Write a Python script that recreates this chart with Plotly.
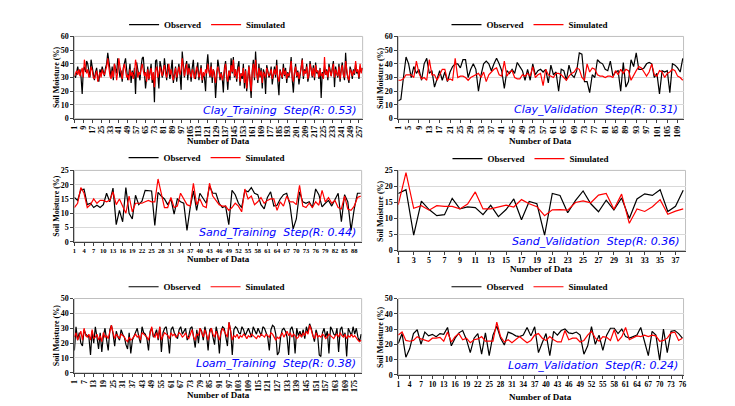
import plotly.graph_objects as go

# ---------------- data ----------------
clay_train_obs = [
 31,30,34,38,33,36,30,18,35,38,34,42,40,36,30,43,37,31,28,34,
 37,30,27,36,33,38,35,31,37,40,48,42,35,30,38,28,40,36,33,44,
 38,30,35,27,37,42,44,36,28,33,40,26,35,30,37,18,41,36,32,28,
 38,44,45,33,22,30,38,28,35,40,26,33,12,42,43,30,22,42,38,30,
 33,44,36,28,40,34,29,36,43,26,31,38,27,33,40,32,21,49,36,30,
 38,42,28,40,35,27,37,43,30,29,36,41,28,34,39,26,33,30,20,38,
 47,35,30,41,26,36,33,15,32,43,38,28,34,30,19,37,42,29,21,35,
 28,44,33,45,30,36,27,38,42,24,33,29,40,22,36,20,31,39,26,15,
 35,43,28,49,34,26,40,30,37,22,36,33,18,39,35,30,32,38,25,34,
 38,30,43,27,17,36,33,29,40,31,37,26,34,30,36,45,28,19,33,40,
 30,35,25,31,38,44,29,36,33,40,27,31,42,37,30,39,28,41,33,35,
 29,37,15,34,30,38,32,36,28,40,35,31,37,42,23,38,33,30,40,27,
 36,41,32,28,48,34,30,26,38,35,29,36,32,40,33,35,29,38,34,37]
clay_train_sim = [
 31,33,35,32,36,31,34,37,30,43,38,33,36,30,32,38,35,30,29,33,
 35,27,31,34,30,36,33,32,35,38,44,36,31,29,35,30,40,36,28,34,
 44,38,33,29,36,40,35,30,32,28,36,31,34,29,33,43,38,30,34,32,
 36,40,35,31,34,27,36,29,33,37,28,34,23,35,38,30,33,38,34,31,
 36,39,33,30,35,40,32,36,31,28,33,37,30,34,38,32,36,44,35,31,
 36,40,32,37,33,30,36,34,29,33,38,35,30,33,37,28,34,31,36,33,
 40,35,31,38,30,36,32,26,34,38,35,30,33,28,31,36,40,30,27,35,
 31,39,34,43,31,36,29,35,38,27,33,31,37,26,35,22,33,38,30,20,
 34,40,30,43,33,28,37,31,35,26,34,32,30,37,34,31,33,36,29,33,
 36,32,39,30,27,35,33,30,37,32,35,29,33,31,35,42,30,27,34,38,
 31,34,29,32,37,43,31,35,33,38,29,32,40,36,31,37,30,39,34,35,
 30,36,31,33,29,45,32,35,30,38,34,31,36,40,30,36,33,31,38,29,
 35,39,32,30,42,33,30,28,36,34,31,35,33,42,34,36,30,40,33,37]

clay_val_obs = [
 13,14,30,45,40,30,38,33,36,28,40,44,33,35,23,30,35,28,34,27,
 34,38,40,40,37,43,43,30,36,40,36,20,32,40,42,40,35,40,44,40,
 35,22,35,33,36,33,41,38,35,28,36,28,40,32,35,36,34,36,26,39,
 32,34,20,36,35,28,39,32,30,35,48,47,27,27,19,32,30,43,41,40,
 36,35,42,31,34,35,20,41,23,27,43,38,48,36,36,37,40,41,40,30,
 33,18,35,34,35,19,40,39,37,34,44]
clay_val_sim = [
 28,28,29,32,32,32,30,42,33,29,30,28,43,32,32,28,32,36,36,28,
 29,28,44,30,31,31,30,28,30,31,32,33,30,34,27,32,34,36,37,32,
 31,42,31,34,35,30,29,29,32,31,33,31,38,30,32,33,24,36,32,31,
 30,33,33,32,30,28,31,33,34,37,36,30,28,40,34,37,36,32,31,31,
 30,31,31,30,35,32,36,33,36,35,28,32,35,38,37,34,31,34,40,32,
 31,35,34,30,33,34,36,35,31,30,28]

sand_train_obs = [
 15.5,14.5,18.2,18.4,13,13.5,12,12.8,12,13,17,14,18.8,6,11,7,19,10,8,16.3,
 13,14.2,18,18,17.8,5.7,17.3,16,15,13,15,9.7,15,14,13.5,4,12,17.8,11,17,
 15,13.5,19.5,17,17,13.5,12,12.5,6,18,16.5,13.5,12,18,17.5,19,17,16.5,13,11.5,
 15.5,17.5,12.5,12.8,15,16.5,17,13,4.5,8,17.5,14,13.5,14,12,18.5,16.5,12.2,13.5,14.5,
 12.5,15,17,7,16.5,14,4,11.5,17,17]
sand_train_sim = [
 12,13.5,19,17,12,13,15,13.5,14.5,14.5,14,14.5,17.5,13,15,12.5,10,16,10.5,13.5,
 13.5,13.5,14,14.5,14,14,22,16.5,12,12,15.5,12,12.5,17,15,13,12.5,20.5,13,15,
 12.5,12,20.5,16,14.5,13,12.5,12.5,11,12,13.5,12.5,10.5,18.5,15,16,13,14,15.5,13.5,
 14.5,15,15,11,14,12.5,16,14,14,13,19.8,12.5,12,13.5,12,14,12.8,18,14,15.5,
 13.5,14.5,12,11.5,16,11.5,11,12.5,15.5,16]

sand_val_obs = [
 17.8,19.0,4.8,15.4,12.8,10.9,11.2,16.3,13.0,13.6,13.4,11.2,14.1,10.6,12.8,16.1,9.6,15.3,14.6,4.8,
 17.8,17.2,11.8,15.6,18.6,14.6,12.1,15.7,12.7,16.4,10.0,16.1,17.7,17.2,19.0,12.2,13.8,18.8]
sand_val_sim = [
 14.3,24.3,13.2,14.0,12.6,14.0,13.8,13.8,13.0,14.5,18.3,13.0,13.0,13.5,14.2,13.6,15.9,14.6,13.7,10.9,
 12.7,12.8,12.6,15.0,15.5,14.9,17.3,17.8,12.9,17.6,8.5,13.0,12.2,13.7,15.9,11.3,12.3,13.0]

loam_train_obs = [
 15,31,22,27,20,18,29,26,25,24,12,28,20,31,24,16,27,14,25,30,
 22,15,29,32,26,18,28,24,22,29,26,24,19,16,27,13,22,25,28,30,
 24,20,31,27,26,23,15,28,30,24,26,29,22,31,14,27,30,31,24,13,
 29,31,27,25,23,29,31,26,28,30,22,25,30,31,24,17,29,20,30,28,
 22,31,26,15,29,30,24,19,31,26,13,28,31,30,24,18,34,28,12,29,
 31,30,27,26,31,29,25,28,30,27,24,31,29,26,30,28,25,31,30,27,
 24,15,29,32,31,26,12,14,24,29,30,28,24,12,29,31,27,13,30,25,
 28,24,29,23,31,27,33,30,26,21,29,25,12,11,27,30,24,28,13,31,
 29,26,25,30,14,29,31,24,27,11,30,28,25,31,26,30,24,21,26]
loam_train_sim = [
 24,27,22,25,28,22,30,25,24,26,22,29,23,24,26,22,25,21,27,24,
 25,23,28,32,27,23,26,24,23,26,25,24,22,21,24,22,23,25,26,24,
 25,22,27,26,25,24,22,26,31,25,24,27,23,31,22,25,27,26,25,23,
 27,25,26,24,25,27,26,24,25,27,24,23,26,29,24,22,26,25,30,27,
 24,29,25,22,27,30,26,24,28,25,22,27,30,28,26,24,34,27,22,25,
 24,26,23,25,24,26,25,23,25,24,26,25,24,23,25,24,26,25,24,26,
 25,24,27,26,24,22,24,23,25,27,24,26,28,25,27,24,26,25,23,24,
 26,24,27,25,28,26,32,29,25,23,27,24,25,24,26,25,23,24,26,25,
 24,23,25,26,24,27,25,24,26,23,25,24,26,24,25,23,22,21,22]

loam_val_obs = [
 20.5,27,11.5,17,27,29.5,20,28,25.5,26.5,25,27,26.5,31,19,24,27.5,29,23,14.5,
 24,27,13.5,27.5,12.5,26,32,24,19.5,28,27,25.5,25,26,31,25.5,31.5,14.5,21,27,
 12.5,28.5,26,29,30,27.5,27,28,26,13.5,19,31.5,20,26,16,26,30.5,30.5,27,30,
 25,24,25,26,31,21,12.5,28.5,26,9.5,30,14.5,28.5,29,27,24]
loam_val_sim = [
 26,28,22.5,22,22.5,25,23.5,23,22,24,24,24.5,22,28,21.5,25,27,23,24,21,
 23,23.5,25,22,22,22,34.5,25,21.5,23,21,23,25,23,21,22.5,26,27,24,22.5,
 25,23,21.5,21.5,29,23,24,24,21.5,22.5,26,28.5,24,22,25,24.5,22.5,29.5,22,25,
 31,23,24.5,25.5,25,26,25,26,25.5,22,22.5,24,27.5,28,22.5,24]

# panel config: (obs, sim, label, ymax, ydtick, tick step, rotated, tick font size)
panels = [
    (clay_train_obs, clay_train_sim, "Clay_Training  Step(R: 0.53)", 60, 10, 8, True, 8),
    (clay_val_obs, clay_val_sim, "Clay_Validation  Step(R: 0.31)", 60, 10, 4, True, 8),
    (sand_train_obs, sand_train_sim, "Sand_Training  Step(R: 0.44)", 25, 5, 3, False, 6.5),
    (sand_val_obs, sand_val_sim, "Sand_Validation  Step(R: 0.36)", 25, 5, 2, False, 8),
    (loam_train_obs, loam_train_sim, "Loam_Training  Step(R: 0.38)", 50, 10, 6, True, 8),
    (loam_val_obs, loam_val_sim, "Loam_Validation  Step(R: 0.24)", 50, 10, 3, False, 7.5),
]

W, H = 735, 406
# pixel boxes: (left, right, top, bottom)
boxes = [
    (63, 354, 25, 109), (390, 678, 25, 109),
    (63, 353, 162, 235), (390, 680, 162, 244),
    (63, 353, 293, 369), (390, 678, 293, 371),
]
legend_y = [13, 13, 149, 150, 281, 281]
xtitle_y = [132, 132, 253, 263, 392, 394]
ann_y = [101, 100, 226, 235, 359, 362]

serif = "Liberation Serif"
fig = go.Figure()
layout = {}
annotations = []
shapes = []

for i, (obs, sim, label, ymax, ydt, step, rot, tfs) in enumerate(panels):
    n = i + 1
    sfx = "" if n == 1 else str(n)
    xa, ya = "x" + sfx, "y" + sfx
    lg = "legend" + sfx
    L, R, T, B = boxes[i]
    N = len(obs)
    xs = list(range(1, N + 1))
    fig.add_trace(go.Scatter(x=xs, y=obs, mode="lines", name="Observed",
                             line=dict(color="black", width=1.2),
                             xaxis=xa, yaxis=ya, legend=lg))
    fig.add_trace(go.Scatter(x=xs, y=sim, mode="lines", name="Simulated",
                             line=dict(color="#ff0000", width=1.2),
                             xaxis=xa, yaxis=ya, legend=lg))
    layout["xaxis" + sfx] = dict(
        domain=[L / W, R / W], anchor=ya, range=[1, N + 0.3],
        tickmode="array", tickvals=list(range(1, N + 1, step)),
        ticktext=[str(v) for v in range(1, N + 1, step)],
        tickangle=-90 if rot else 0, showgrid=False, zeroline=False,
        showline=True, linecolor="#404040", linewidth=1,
        ticks="outside", ticklen=3, tickcolor="#404040",
        ticklabelstandoff=0 if rot else -1,
        tickfont=dict(family=serif, size=tfs, color="black", weight="bold"),
    )
    layout["yaxis" + sfx] = dict(
        domain=[1 - B / H, 1 - T / H], anchor=xa, range=[0, ymax],
        dtick=ydt, showgrid=True, gridcolor="#d9d9d9", gridwidth=1,
        zeroline=False, showline=True, linecolor="#404040", linewidth=1,
        ticks="outside", ticklen=3, tickcolor="#404040",
        tickfont=dict(family=serif, size=8, color="black", weight="bold"),
    )
    layout[lg] = dict(
        x=(L + R) / 2 / W - 0.015, y=1 - legend_y[i] / H, xanchor="center", yanchor="middle",
        orientation="h", bgcolor="rgba(0,0,0,0)", itemwidth=30,
        font=dict(family=serif, size=9, color="black", weight="bold"),
        tracegroupgap=0,
    )
    shapes.append(dict(type="rect", xref=xa + " domain", yref=ya + " domain",
                       x0=0, x1=1, y0=0, y1=1, line=dict(color="#bfbfbf", width=1),
                       fillcolor="rgba(0,0,0,0)", layer="below"))
    annotations.append(dict(text=label, xref="paper", yref="paper",
                            x=(R - 4) / W, y=1 - ann_y[i] / H, xanchor="right", yanchor="middle",
                            showarrow=False,
                            font=dict(family="DejaVu Sans", size=11, color="#0000ff", style="italic")))
    annotations.append(dict(text="Number of Data", xref="paper", yref="paper",
                            x=(L + R) / 2 / W, y=1 - xtitle_y[i] / H, xanchor="center", yanchor="middle",
                            showarrow=False,
                            font=dict(family=serif, size=9, color="black", weight="bold")))
    annotations.append(dict(text="Soil Moisture (%)", xref="paper", yref="paper",
                            x=(L - 18) / W, y=1 - (T + B) / 2 / H, xanchor="center", yanchor="middle",
                            textangle=-90, showarrow=False,
                            font=dict(family=serif, size=8, color="black", weight="bold")))

fig.update_layout(
    width=W, height=H, margin=dict(l=0, r=0, t=0, b=0),
    paper_bgcolor="white", plot_bgcolor="white",
    annotations=annotations, shapes=shapes, **layout,
)
fig.write_html("out.html")
